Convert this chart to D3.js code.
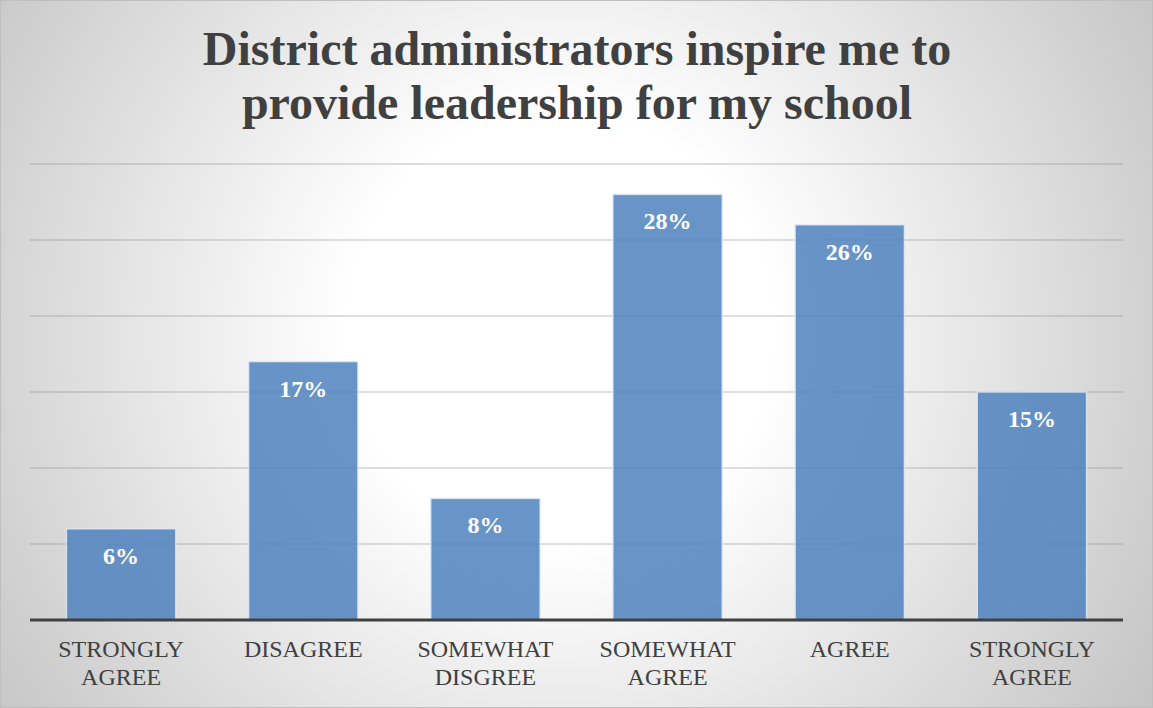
<!DOCTYPE html>
<html>
<head>
<meta charset="utf-8">
<script src="https://cdn.jsdelivr.net/npm/d3@7"></script>
<style>
  html, body { margin: 0; padding: 0; background: #fff; }
  svg { display: block; }
</style>
</head>
<body>
<svg id="chart" width="1153" height="708"></svg>
<script>
// Survey responses
const categories = [
  ["STRONGLY", "AGREE"],
  ["DISAGREE"],
  ["SOMEWHAT", "DISGREE"],
  ["SOMEWHAT", "AGREE"],
  ["AGREE"],
  ["STRONGLY", "AGREE"]
];
const values = [6, 17, 8, 28, 26, 15];
const valueLabels = ["6%", "17%", "8%", "28%", "26%", "15%"];
const gridTicks = [0, 5, 10, 15, 20, 25, 30];
const titleLines = ["District administrators inspire me to", "provide leadership for my school"];

const W = 1153, H = 708;
const plot = { left: 30, right: 1123, top: 164, bottom: 620 };
const svg = d3.select("#chart");
const serif = "'Liberation Serif', 'Times New Roman', Times, serif";

// Soft radial backdrop
const defs = svg.append("defs");
const grad = defs.append("radialGradient")
  .attr("id", "bg")
  .attr("gradientUnits", "userSpaceOnUse")
  .attr("cx", 560).attr("cy", 330).attr("r", 760);
grad.append("stop").attr("offset", 0).attr("stop-color", "#ffffff");
grad.append("stop").attr("offset", 0.28).attr("stop-color", "#ffffff");
grad.append("stop").attr("offset", 1).attr("stop-color", "#bdbdbd");

svg.append("rect").attr("x", 0.5).attr("y", 0.5)
  .attr("width", W - 1).attr("height", H - 1)
  .attr("fill", "url(#bg)").attr("stroke", "#bfbfbf").attr("stroke-width", 1);

// Title
svg.append("g").selectAll("text").data(titleLines).join("text")
  .attr("x", 577).attr("y", (d, i) => 65 + i * 54)
  .attr("text-anchor", "middle")
  .style("font-family", serif).attr("font-weight", "bold")
  .attr("font-size", 48).attr("fill", "#404040")
  .text(d => d);

const idx = d3.range(values.length);
const x = d3.scaleBand().domain(idx).range([plot.left, plot.right])
  .paddingInner(0.4).paddingOuter(0.2);
const y = d3.scaleLinear().domain([0, 30]).range([plot.bottom, plot.top]);

// Gridlines
svg.append("g").selectAll("line").data(gridTicks.filter(t => t > 0)).join("line")
  .attr("x1", plot.left).attr("x2", plot.right)
  .attr("y1", d => y(d)).attr("y2", d => y(d))
  .attr("stroke", "#8a8a8a").attr("stroke-opacity", 0.55).attr("stroke-width", 1.2);

// Bars
svg.append("g").selectAll("rect").data(values).join("rect")
  .attr("x", (d, i) => x(i)).attr("width", x.bandwidth())
  .attr("y", d => y(d)).attr("height", d => y(0) - y(d))
  .attr("fill", "#4f81bd").attr("fill-opacity", 0.85)
  .attr("stroke", "#e3ebf5").attr("stroke-opacity", 0.8).attr("stroke-width", 1.5);

// Value labels
svg.append("g").selectAll("text").data(values).join("text")
  .attr("x", (d, i) => x(i) + x.bandwidth() / 2)
  .attr("y", d => y(d) + 35)
  .attr("text-anchor", "middle")
  .style("font-family", serif).attr("font-weight", "bold")
  .attr("font-size", 24).attr("fill", "#ffffff")
  .text((d, i) => valueLabels[i]);

// Category axis
const xAxis = svg.append("g").attr("transform", `translate(0,${plot.bottom})`)
  .call(d3.axisBottom(x).tickSize(0).tickFormat(""));
xAxis.select(".domain").attr("stroke", "#404040").attr("stroke-width", 3)
  .attr("d", `M${plot.left},0H${plot.right}`);

const catG = svg.append("g").selectAll("text").data(categories).join("text")
  .attr("text-anchor", "middle")
  .style("font-family", serif)
  .attr("font-size", 24).attr("fill", "#404040");
catG.selectAll("tspan").data((d, i) => d.map(s => ({ s, i }))).join("tspan")
  .attr("x", d => x(d.i) + x.bandwidth() / 2)
  .attr("y", (d, j) => 657 + j * 28)
  .text(d => d.s);
</script>
</body>
</html>
